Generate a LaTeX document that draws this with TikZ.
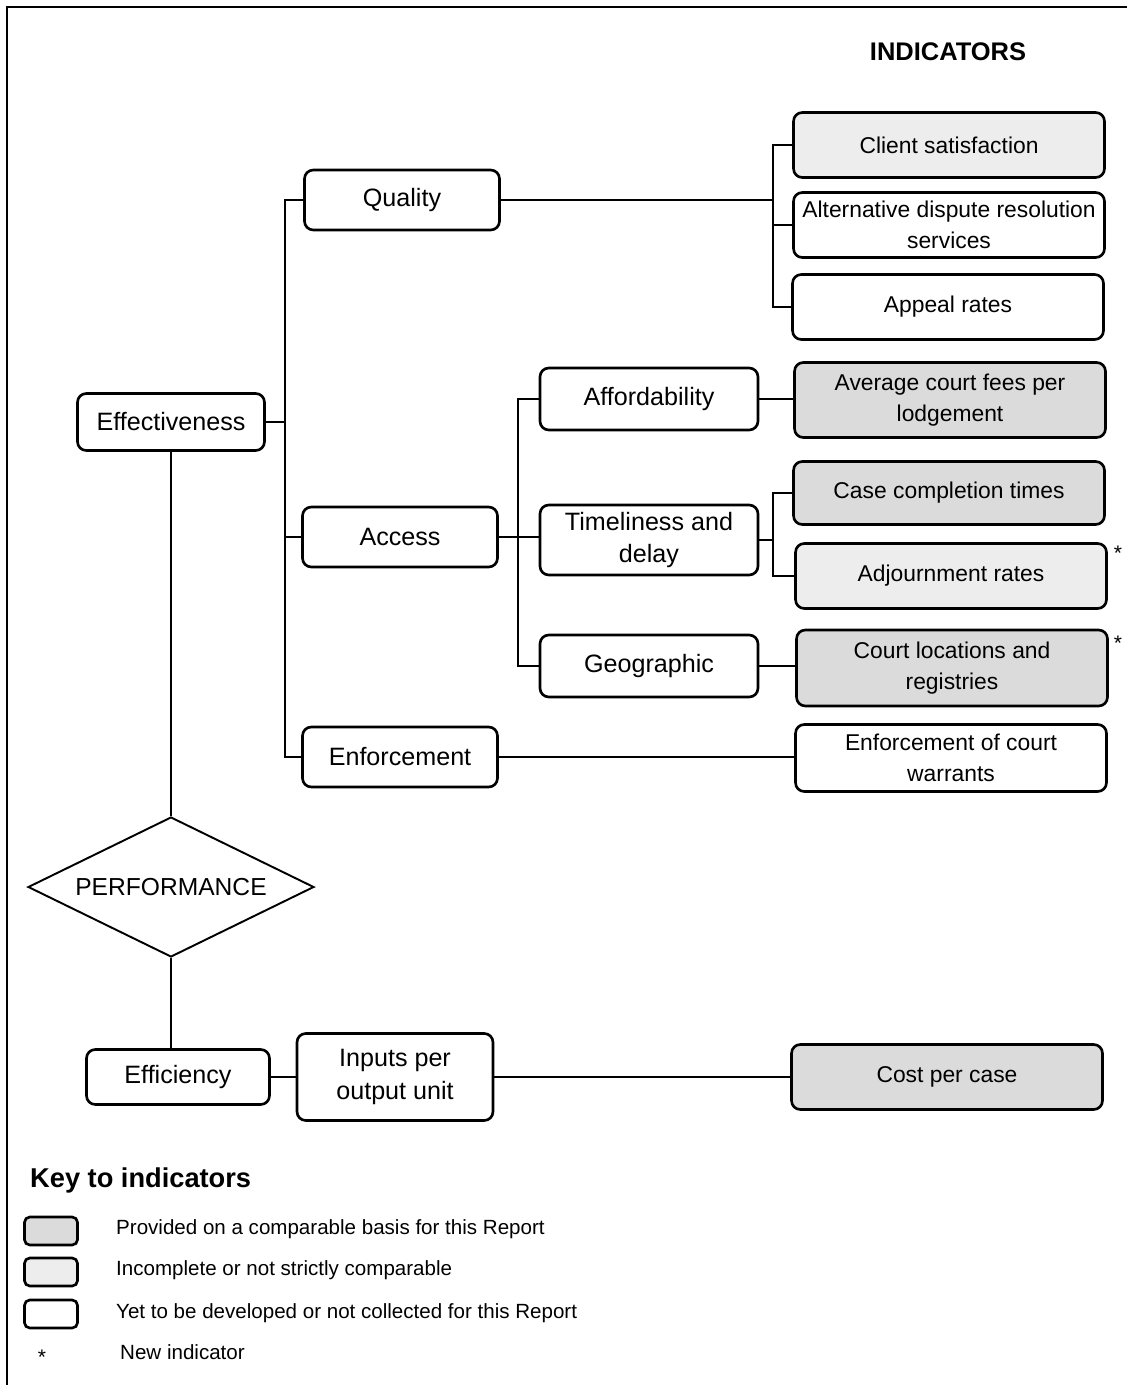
\documentclass[tikz,border=0pt]{standalone}
\usepackage{fontspec}
\setmainfont{Liberation Sans}
\usetikzlibrary{shapes.geometric}

\definecolor{compfill}{gray}{0.86}
\definecolor{partfill}{gray}{0.93}

\begin{document}
\begin{tikzpicture}[x=0.02cm, y=-0.02cm, every node/.style = {align=center},
    frame/.style = {draw, line width=1.5pt, rounded corners=5pt, inner sep=1pt},
    catbox/.style = {frame, minimum width=3.9cm, minimum height=1.2cm, font=\fontsize{14.3}{18.7}\selectfont},
    subbox/.style = {frame, minimum width=4.36cm, minimum height=1.24cm, font=\fontsize{14.3}{18.7}\selectfont},
    indbox/.style = {frame, minimum width=6.22cm, minimum height=1.3cm, font=\fontsize{13}{18}\selectfont},
    keybox/.style = {frame, rounded corners=3pt, minimum width=1.06cm, minimum height=0.56cm},
    keytext/.style = {anchor=west, font=\fontsize{11.7}{14}\selectfont},
    link/.style = {line width=1.1pt}]
    \useasboundingbox (0,0) rectangle (1127,1385);
    \draw[line width=1.7pt] (7,1385) -- (7,7) -- (1127,7);

    \node[font=\bfseries\fontsize{14.5}{17}\selectfont] (head) at (948,52) {INDICATORS};

    \node[catbox, minimum width=3.74cm, minimum height=1.14cm] (effect) at (171,422) {Effectiveness};
    \node[catbox] (quality) at (402,200) {Quality};
    \node[catbox] (access) at (400,537) {Access};
    \node[catbox] (enforce) at (400,757) {Enforcement};

    \node[subbox] (afford) at (649,399) {Affordability};
    \node[subbox, minimum height=1.4cm] (timely) at (649,540) {Timeliness and\\delay};
    \node[subbox] (geo) at (649,666) {Geographic};

    \node[indbox, fill=partfill] (client) at (949,145) {Client satisfaction};
    \node[indbox] (altdisp) at (949,225) {Alternative dispute resolution\\services};
    \node[indbox] (appeal) at (948,307) {Appeal rates};
    \node[indbox, fill=compfill, minimum height=1.5cm] (fees) at (950,400) {Average court fees per\\lodgement};
    \node[indbox, fill=compfill, minimum height=1.26cm] (casetime) at (949,493) {Case completion times};
    \node[indbox, fill=partfill] (adjourn) at (951,576) {Adjournment rates};
    \node[indbox, fill=compfill, minimum height=1.52cm] (location) at (952,668) {Court locations and\\registries};
    \node[indbox, minimum height=1.34cm] (warrant) at (951,758) {Enforcement of court\\warrants};

    \node[draw, shape=diamond, line width=1.1pt, aspect=2, inner sep=0pt, minimum width=5.72cm, minimum height=2.8cm, font=\fontsize{14}{17}\selectfont] (perf) at (171,887) {PERFORMANCE};

    \node[catbox, minimum width=3.66cm, minimum height=1.1cm] (effic) at (178,1077) {Efficiency};
    \node[catbox, minimum width=3.92cm, minimum height=1.74cm] (inputs) at (395,1077) {Inputs per\\output unit};
    \node[indbox, fill=compfill] (cost) at (947,1077) {Cost per case};

    \node[font=\fontsize{12}{14}\selectfont] (star1) at (1118,553) {*};
    \node[font=\fontsize{12}{14}\selectfont] (star2) at (1118,643) {*};

    \coordinate (lbus) at (285,0);
    \coordinate (qbus) at (773,0);
    \coordinate (abus) at (518,0);
    \coordinate (tbus) at (773,0);

    \draw[link] (effect.east) -- (effect.east -| lbus);
    \draw[link] (quality.west) -| (lbus |- enforce.west) -- (enforce.west);
    \draw[link] (access.west) -- (access.west -| lbus);

    \draw[link] (quality.east) -- (quality.east -| qbus);
    \draw[link] (client.west) -| (qbus |- appeal.west) -- (appeal.west);
    \draw[link] (altdisp.west) -- (altdisp.west -| qbus);

    \draw[link] (access.east) -- (access.east -| abus);
    \draw[link] (afford.west) -| (abus |- geo.west) -- (geo.west);
    \draw[link] (timely.west |- access.east) -- (access.east -| abus);

    \draw[link] (afford.east) -- (afford.east -| fees.west);
    \draw[link] (timely.east) -- (timely.east -| tbus);
    \draw[link] (casetime.west) -| (tbus |- adjourn.west) -- (adjourn.west);
    \draw[link] (geo.east) -- (geo.east -| location.west);
    \draw[link] (enforce.east) -- (enforce.east -| warrant.west);

    \draw[link] (effect.south) -- (perf.north);
    \draw[link] (perf.south) -- (perf.south |- effic.north);
    \draw[link] (effic.east) -- (inputs.west);
    \draw[link] (inputs.east) -- (cost.west);

    \node[anchor=west, font=\bfseries\fontsize{15.5}{18}\selectfont] (keyhead) at (24,1180) {Key to indicators};
    \node[keybox, fill=compfill] (key1) at (51,1231) {};
    \node[keybox, fill=partfill] (key2) at (51,1272) {};
    \node[keybox] (key3) at (51,1314) {};
    \node[font=\fontsize{12}{14}\selectfont] (key4) at (42,1357) {*};
    \node[keytext] (keyt1) at (110,1229) {Provided on a comparable basis for this Report};
    \node[keytext] (keyt2) at (110,1270) {Incomplete or not strictly comparable};
    \node[keytext] (keyt3) at (110,1313) {Yet to be developed or not collected for this Report};
    \node[keytext] (keyt4) at (114,1352) {New indicator};
\end{tikzpicture}
\end{document}
